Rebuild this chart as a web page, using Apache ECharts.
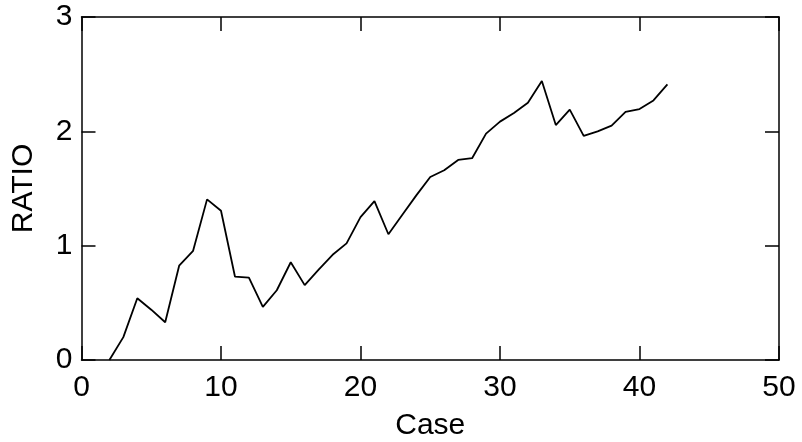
<!DOCTYPE html>
<html>
<head>
<meta charset="utf-8">
<script src="https://cdn.jsdelivr.net/npm/echarts@6/dist/echarts.min.js"></script>
<style>
html,body{margin:0;padding:0;background:#fff;}
#chart{width:802px;height:442px;}
</style>
</head>
<body>
<div id="chart"></div>
<script>
const cases = [2,3,4,5,6,7,8,9,10,11,12,13,14,15,16,17,18,19,20,21,22,23,24,25,26,27,28,29,30,31,32,33,34,35,36,37,38,39,40,41,42];
const ratio = [0,0.2,0.54,0.44,0.33,0.825,0.955,1.405,1.305,0.73,0.72,0.465,0.61,0.855,0.655,0.79,0.92,1.02,1.25,1.39,1.10,1.27,1.44,1.60,1.66,1.75,1.765,1.98,2.085,2.16,2.25,2.44,2.055,2.19,1.96,2.00,2.05,2.17,2.195,2.27,2.41];
const xName = 'Case';
const yName = 'RATIO';

const font = 'Liberation Sans, Arial, sans-serif';
const chart = echarts.init(document.getElementById('chart'));
const axisLine = {show:true, onZero:false, lineStyle:{color:'#000', width:1.5}};
const tick = {show:true, inside:true, length:14, lineStyle:{color:'#000', width:1.5}};
chart.setOption({
  animation:false,
  backgroundColor:'#fff',
  grid:{left:81.5, right:23, top:17, bottom:82, containLabel:false, outerBoundsMode:'none'},
  xAxis:[{
    type:'value', min:0, max:50, interval:10, position:'bottom',
    name:xName, nameLocation:'middle', nameGap:51,
    nameTextStyle:{color:'#000', fontSize:30, fontFamily:font},
    axisLine:axisLine, axisTick:tick, splitLine:{show:false},
    axisLabel:{color:'#000', fontSize:30, fontFamily:font, margin:13}
  },{
    type:'value', min:0, max:50, interval:10, position:'top',
    axisLine:axisLine, axisTick:tick, splitLine:{show:false},
    axisLabel:{show:false}
  }],
  yAxis:[{
    type:'value', min:0, max:3, interval:1, position:'left',
    name:yName, nameLocation:'middle', nameGap:43,
    nameTextStyle:{color:'#000', fontSize:30, fontFamily:font},
    axisLine:axisLine, axisTick:tick, splitLine:{show:false},
    axisLabel:{color:'#000', fontSize:30, fontFamily:font, margin:9}
  },{
    type:'value', min:0, max:3, interval:1, position:'right',
    axisLine:axisLine, axisTick:tick, splitLine:{show:false},
    axisLabel:{show:false}
  }],
  series:[{
    type:'line', xAxisIndex:0, yAxisIndex:0,
    data:cases.map((c,i)=>[c, ratio[i]]),
    showSymbol:false, symbol:'none',
    lineStyle:{color:'#000', width:1.8}
  }]
});
</script>
</body>
</html>
